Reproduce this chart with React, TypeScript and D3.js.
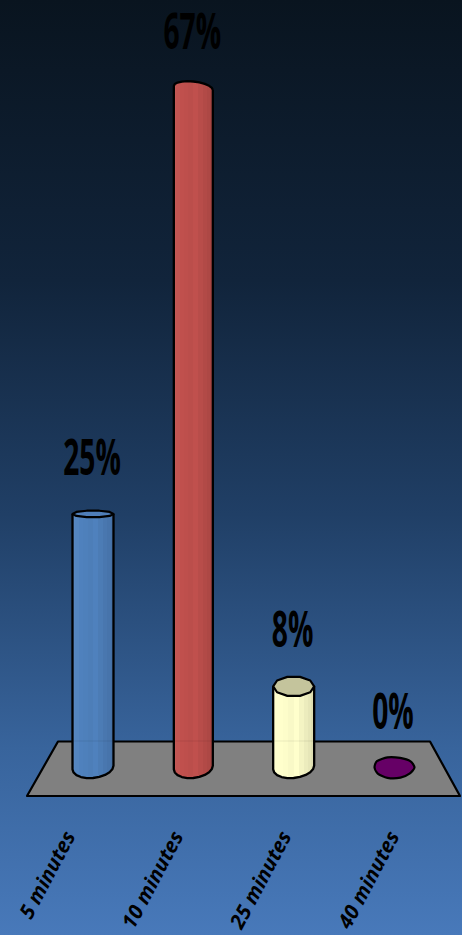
import React from "react";
import * as d3 from "d3";

const categories = ["5 minutes", "10 minutes", "25 minutes", "40 minutes"];
const percentages = [25, 67, 8, 0];
const fills = ["#4f81bd", "#c0504d", "#ffffcc", "#660066"];
const capFills = ["#4f7eb8", "#bf4f4c", "#c4c49c", "#660066"];

const WIDTH = 462;
const HEIGHT = 935;

const x = d3.scalePoint<string>().domain(categories).range([93, 394]);
// Axis labels fan out slightly wider than the columns, following the floor's perspective.
const labelX = d3.scalePoint<string>().domain(categories).range([78, 402]);
const y = d3.scaleLinear().domain([0, 67]).range([767.5, 88]);

// Apparent height of each cap: the viewpoint sits near the blue bar's top.
const capRy = [3.4, 6.5, 10, 10.5];
const capTilt = [0, 2, 0, 0];
const halfWidth = [20.5, 19.5, 20.5, 20.5];
const baseRy = 10.5;
const baseTilt = -1.8;
const SIDES = 10;

// Brightness of the facets running left to right across a column.
const facetShade = [0.06, 0.05, 0.03, 0.0, -0.01, -0.03, 0.0, -0.05, -0.09, -0.12, -0.16, -0.2];

const line = d3.line<[number, number]>();
const ringPoints = (cx: number, cy: number, rx: number, ry: number, tilt: number, from: number, to: number, n: number) =>
  d3.range(n + 1).map((i): [number, number] => {
    const t = from + ((to - from) * i) / n;
    return [cx + rx * Math.cos(t), cy + ry * Math.sin(t) + tilt * Math.cos(t)];
  });

function shade(col: string, k: number) {
  const c = d3.rgb(col);
  return k >= 0 ? d3.interpolateRgb(col, "#ffffff")(k) : c.darker(-k * 2.4).formatRgb();
}

function Column({ i }: { i: number }) {
  const cat = categories[i];
  const cx = x(cat)!;
  const top = y(percentages[i]);
  const base = y(0);
  const rx = halfWidth[i];
  const ry = capRy[i];
  const tilt = capTilt[i];
  const gid = `facets-${i}`;
  const n = facetShade.length;
  const edge = (k: number) => ((1 - Math.cos((Math.PI * k) / n)) / 2) * 100;

  if (percentages[i] === 0) {
    // A zero value collapses to a flat, slightly uneven disc on the floor.
    const wobble = [1, 0.96, 1.02, 1.04, 0.98, 0.95, 1.03, 1.02, 0.96, 1.0];
    const blob = wobble.map((w, k): [number, number] => {
      const t = (2 * Math.PI * k) / wobble.length;
      return [cx + rx * w * Math.cos(t), base + ry * w * Math.sin(t)];
    });
    const d = d3.line<[number, number]>().curve(d3.curveCardinalClosed.tension(0.3))(blob)!;
    return <path d={d} fill={fills[i]} stroke="#000" strokeWidth={2.2} />;
  }

  const front = ringPoints(cx, base, rx, baseRy, baseTilt, 0, Math.PI, SIDES);
  // The tallest column is seen from below, so its far rim closes the outline in one piece.
  const rim = i === 1 ? ringPoints(cx, top, rx, ry, tilt, Math.PI, 2 * Math.PI, SIDES) : [];
  const side: [number, number][] = [[cx + rx, top + tilt], ...front, [cx - rx, top - tilt], ...rim];
  const sidePath = line(side)!;

  return (
    <g>
      <defs>
        <linearGradient id={gid} x1="0" x2="1" y1="0" y2="0">
          {facetShade.flatMap((s, k) => [
            <stop key={`${k}a`} offset={`${edge(k)}%`} stopColor={shade(fills[i], s)} />,
            <stop key={`${k}b`} offset={`${edge(k + 1)}%`} stopColor={shade(fills[i], s)} />,
          ])}
        </linearGradient>
      </defs>
      <path d={sidePath + "Z"} fill={`url(#${gid})`} />
      <line x1={cx - rx + 1} x2={cx + rx - 1} y1={741} y2={741} stroke="#000" strokeOpacity={0.08} />
      <path d={sidePath} fill="none" stroke="#000" strokeWidth={2.3} strokeLinejoin="round" />
      {i !== 1 && (
        <path
          d={line(ringPoints(cx, top, rx, ry, tilt, 0, 2 * Math.PI, SIDES))! + "Z"}
          fill={capFills[i]}
          stroke="#000"
          strokeWidth={2.2}
          strokeLinejoin="round"
        />
      )}
    </g>
  );
}

export default function App() {
  return (
    <svg width={WIDTH} height={HEIGHT} style={{ position: "absolute", left: 0, top: 0 }}>
      <defs>
        <linearGradient id="backdrop" x1="0" x2="0" y1="0" y2="1">
          <stop offset="0%" stopColor="#09141f" />
          <stop offset="30%" stopColor="#11243b" />
          <stop offset="55%" stopColor="#203f66" />
          <stop offset="80%" stopColor="#38649c" />
          <stop offset="100%" stopColor="#4879ba" />
        </linearGradient>
      </defs>
      <rect width={WIDTH} height={HEIGHT} fill="url(#backdrop)" />
      <path d="M58,741.5 L430,741.5 L460,796 L27,796 Z" fill="#808080" stroke="#000" strokeWidth={2.2} strokeLinejoin="round" />
      {categories.map((c, i) => (
        <Column key={c} i={i} />
      ))}
      {categories.map((c, i) => (
        <text
          key={`v-${c}`}
          transform={`translate(${x(c)! - 1},${y(percentages[i]) - 39}) scale(0.565,1)`}
          textAnchor="middle"
          fontFamily="'Open Sans'"
          fontWeight={700}
          fontSize={50}
          fill="#000"
        >
          {percentages[i]}%
        </text>
      ))}
      {categories.map((c) => (
        <text
          key={`c-${c}`}
          transform={`translate(${labelX(c)! - 2},836) rotate(-62)`}
          textAnchor="end"
          fontFamily="'Open Sans'"
          fontWeight={700}
          fontStyle="italic"
          fontSize={20.5}
          fill="#000"
        >
          {c}
        </text>
      ))}
    </svg>
  );
}
